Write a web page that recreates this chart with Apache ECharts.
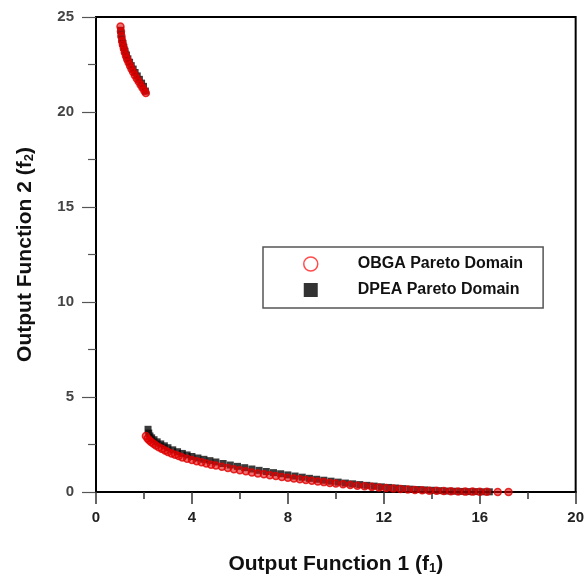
<!DOCTYPE html>
<html>
<head>
<meta charset="utf-8">
<script src="https://cdn.jsdelivr.net/npm/echarts@6/dist/echarts.min.js"></script>
<style>html,body{margin:0;padding:0;background:#fff}#c{width:587px;height:584px}</style>
</head>
<body>
<div id="c"></div>
<script>
// OBGA Pareto Domain (red hollow circles)
var obgaUpper = [
  [1.02,24.5],[1.04,24.25],[1.06,24.0],[1.09,23.75],[1.12,23.55],[1.16,23.35],[1.2,23.15],
  [1.25,22.95],[1.3,22.78],[1.36,22.6],[1.42,22.43],[1.48,22.27],[1.55,22.1],[1.62,21.93],
  [1.7,21.76],[1.78,21.6],[1.86,21.44],[1.94,21.28],[2.02,21.12],[2.08,21.0]
];
var obgaLower = [
  [2.08,2.95],[2.15,2.82],[2.22,2.72],[2.3,2.63],[2.4,2.54],[2.5,2.45],[2.62,2.36],[2.75,2.27],
  [2.88,2.18],[3.0,2.1],[3.15,2.03],[3.3,1.96],[3.45,1.89],[3.6,1.82],[3.8,1.75],[4.0,1.68],
  [4.2,1.62],[4.4,1.56],[4.6,1.5],[4.8,1.44],[5.0,1.39],[5.25,1.33],[5.5,1.26],[5.75,1.2],
  [6.0,1.14],[6.25,1.09],[6.5,1.03],[6.75,0.98],[7.0,0.93],[7.25,0.88],[7.5,0.84],[7.75,0.79],
  [8.0,0.75],[8.25,0.71],[8.5,0.67],[8.75,0.63],[9.0,0.59],[9.25,0.55],[9.5,0.52],[9.75,0.48],
  [10.0,0.45],[10.3,0.41],[10.6,0.37],[10.9,0.33],[11.2,0.3],[11.5,0.27],[11.8,0.24],[12.1,0.21],
  [12.4,0.18],[12.7,0.16],[13.0,0.13],[13.3,0.11],[13.6,0.09],[13.9,0.07],[14.2,0.06],[14.5,0.05],
  [14.8,0.04],[15.1,0.03],[15.4,0.02],[15.7,0.02],[16.0,0.01],[16.3,0.01],[16.75,0.0],[17.2,0.0]
];
// DPEA Pareto Domain (black filled squares)
var dpeaUpper = [
  [1.03,24.3],[1.05,24.05],[1.08,23.8],[1.12,23.6],[1.16,23.4],[1.21,23.2],[1.27,23.0],
  [1.33,22.8],[1.4,22.62],[1.47,22.44],[1.55,22.26],[1.63,22.08],[1.72,21.9],[1.81,21.72],
  [1.9,21.52],[1.98,21.35],[2.06,21.1]
];
var dpeaLower = [
  [2.17,3.3],[2.2,3.1],[2.25,2.95],[2.32,2.85],[2.42,2.75],[2.55,2.64],[2.7,2.53],[2.85,2.43],
  [3.0,2.33],[3.2,2.22],[3.4,2.12],[3.6,2.03],[3.8,1.95],[4.0,1.87],[4.25,1.79],[4.5,1.72],
  [4.75,1.65],[5.0,1.58],[5.3,1.5],[5.6,1.42],[5.9,1.35],[6.2,1.28],[6.5,1.21],[6.8,1.14],
  [7.1,1.08],[7.4,1.02],[7.7,0.96],[8.0,0.9],[8.3,0.84],[8.6,0.78],[8.9,0.72],[9.2,0.67],
  [9.5,0.62],[9.8,0.57],[10.1,0.52],[10.4,0.47],[10.7,0.43],[11.0,0.39],[11.3,0.35],[11.6,0.31],
  [11.9,0.27],[12.2,0.24],[12.5,0.21],[12.8,0.18],[13.1,0.15],[13.4,0.13],[13.7,0.11],[14.0,0.09],
  [14.3,0.07],[14.6,0.05],[14.9,0.04],[15.2,0.03],[15.5,0.02],[15.8,0.02],[16.1,0.01],[16.4,0.01]
];
var seriesNames = ['OBGA Pareto Domain', 'DPEA Pareto Domain'];
var xTitle = 'Output Function 1 (f{sub|1})';
var yTitle = 'Output Function 2 (f{sub|2})';

var font = '"Liberation Sans", Arial, sans-serif';
var chart = echarts.init(document.getElementById('c'), null, {renderer: 'canvas'});
var redStyle = {color: 'rgba(225,0,0,0.7)', borderColor: '#e00000', borderWidth: 1.5};
var blackStyle = {color: '#0a0a0a'};
chart.setOption({
  animation: false,
  backgroundColor: '#fff',
  grid: {left: 96, right: 11, top: 17, bottom: 92, show: true, borderColor: '#000', borderWidth: 2, containLabel: false},
  legend: {
    left: 263, top: 247, orient: 'vertical',
    backgroundColor: '#fff', borderColor: '#555', borderWidth: 1.5,
    padding: [9, 20, 10, 40], itemGap: 10, itemWidth: 14, itemHeight: 14,
    textStyle: {fontFamily: font, fontWeight: 'bold', fontSize: 16, color: '#111', padding: [0, 0, 0, 35]},
    data: [
      {name: seriesNames[0], icon: 'circle', itemStyle: {color: '#fff', borderColor: '#ff2020', borderWidth: 1.5}},
      {name: seriesNames[1], icon: 'rect', itemStyle: {color: '#000'}}
    ]
  },
  xAxis: {
    type: 'value', min: 0, max: 20, interval: 4,
    name: xTitle, nameLocation: 'middle', nameGap: 62,
    nameTextStyle: {fontFamily: font, fontWeight: 'bold', fontSize: 21, color: '#111',
      rich: {sub: {fontFamily: font, fontWeight: 'bold', fontSize: 13, color: '#111', verticalAlign: 'bottom', padding: [8, 0, 0, 0]}}},
    axisLine: {onZero: false, lineStyle: {color: '#000', width: 2}},
    axisTick: {show: true, inside: false, length: 12, lineStyle: {color: '#333', width: 1.5}},
    minorTick: {show: true, splitNumber: 2, length: 7, lineStyle: {color: '#333', width: 1.5}},
    axisLabel: {fontFamily: font, fontWeight: 'bold', fontSize: 15, color: '#222', margin: 18},
    splitLine: {show: false}
  },
  yAxis: {
    type: 'value', min: 0, max: 25, interval: 5,
    name: yTitle, nameLocation: 'middle', nameGap: 60,
    nameTextStyle: {fontFamily: font, fontWeight: 'bold', fontSize: 21, color: '#111',
      rich: {sub: {fontFamily: font, fontWeight: 'bold', fontSize: 13, color: '#111', verticalAlign: 'bottom', padding: [8, 0, 0, 0]}}},
    axisLine: {onZero: false, lineStyle: {color: '#000', width: 2}},
    axisTick: {show: true, inside: false, length: 14, lineStyle: {color: '#555', width: 1.2}},
    minorTick: {show: true, splitNumber: 2, length: 8, lineStyle: {color: '#555', width: 1.2}},
    axisLabel: {fontFamily: font, fontWeight: 'bold', fontSize: 15, color: '#444', margin: 22},
    splitLine: {show: false}
  },
  series: [
    {name: seriesNames[1], type: 'scatter', symbol: 'rect', symbolSize: 7, itemStyle: blackStyle, z: 2, data: dpeaUpper},
    {name: seriesNames[1], type: 'scatter', symbol: 'rect', symbolSize: 7, itemStyle: blackStyle, z: 2, data: dpeaLower},
    {name: seriesNames[0], type: 'scatter', symbol: 'circle', symbolSize: 7, itemStyle: redStyle, z: 3, data: obgaUpper},
    {name: seriesNames[0], type: 'scatter', symbol: 'circle', symbolSize: 7, itemStyle: redStyle, z: 3, data: obgaLower}
  ]
});
</script>
</body>
</html>
